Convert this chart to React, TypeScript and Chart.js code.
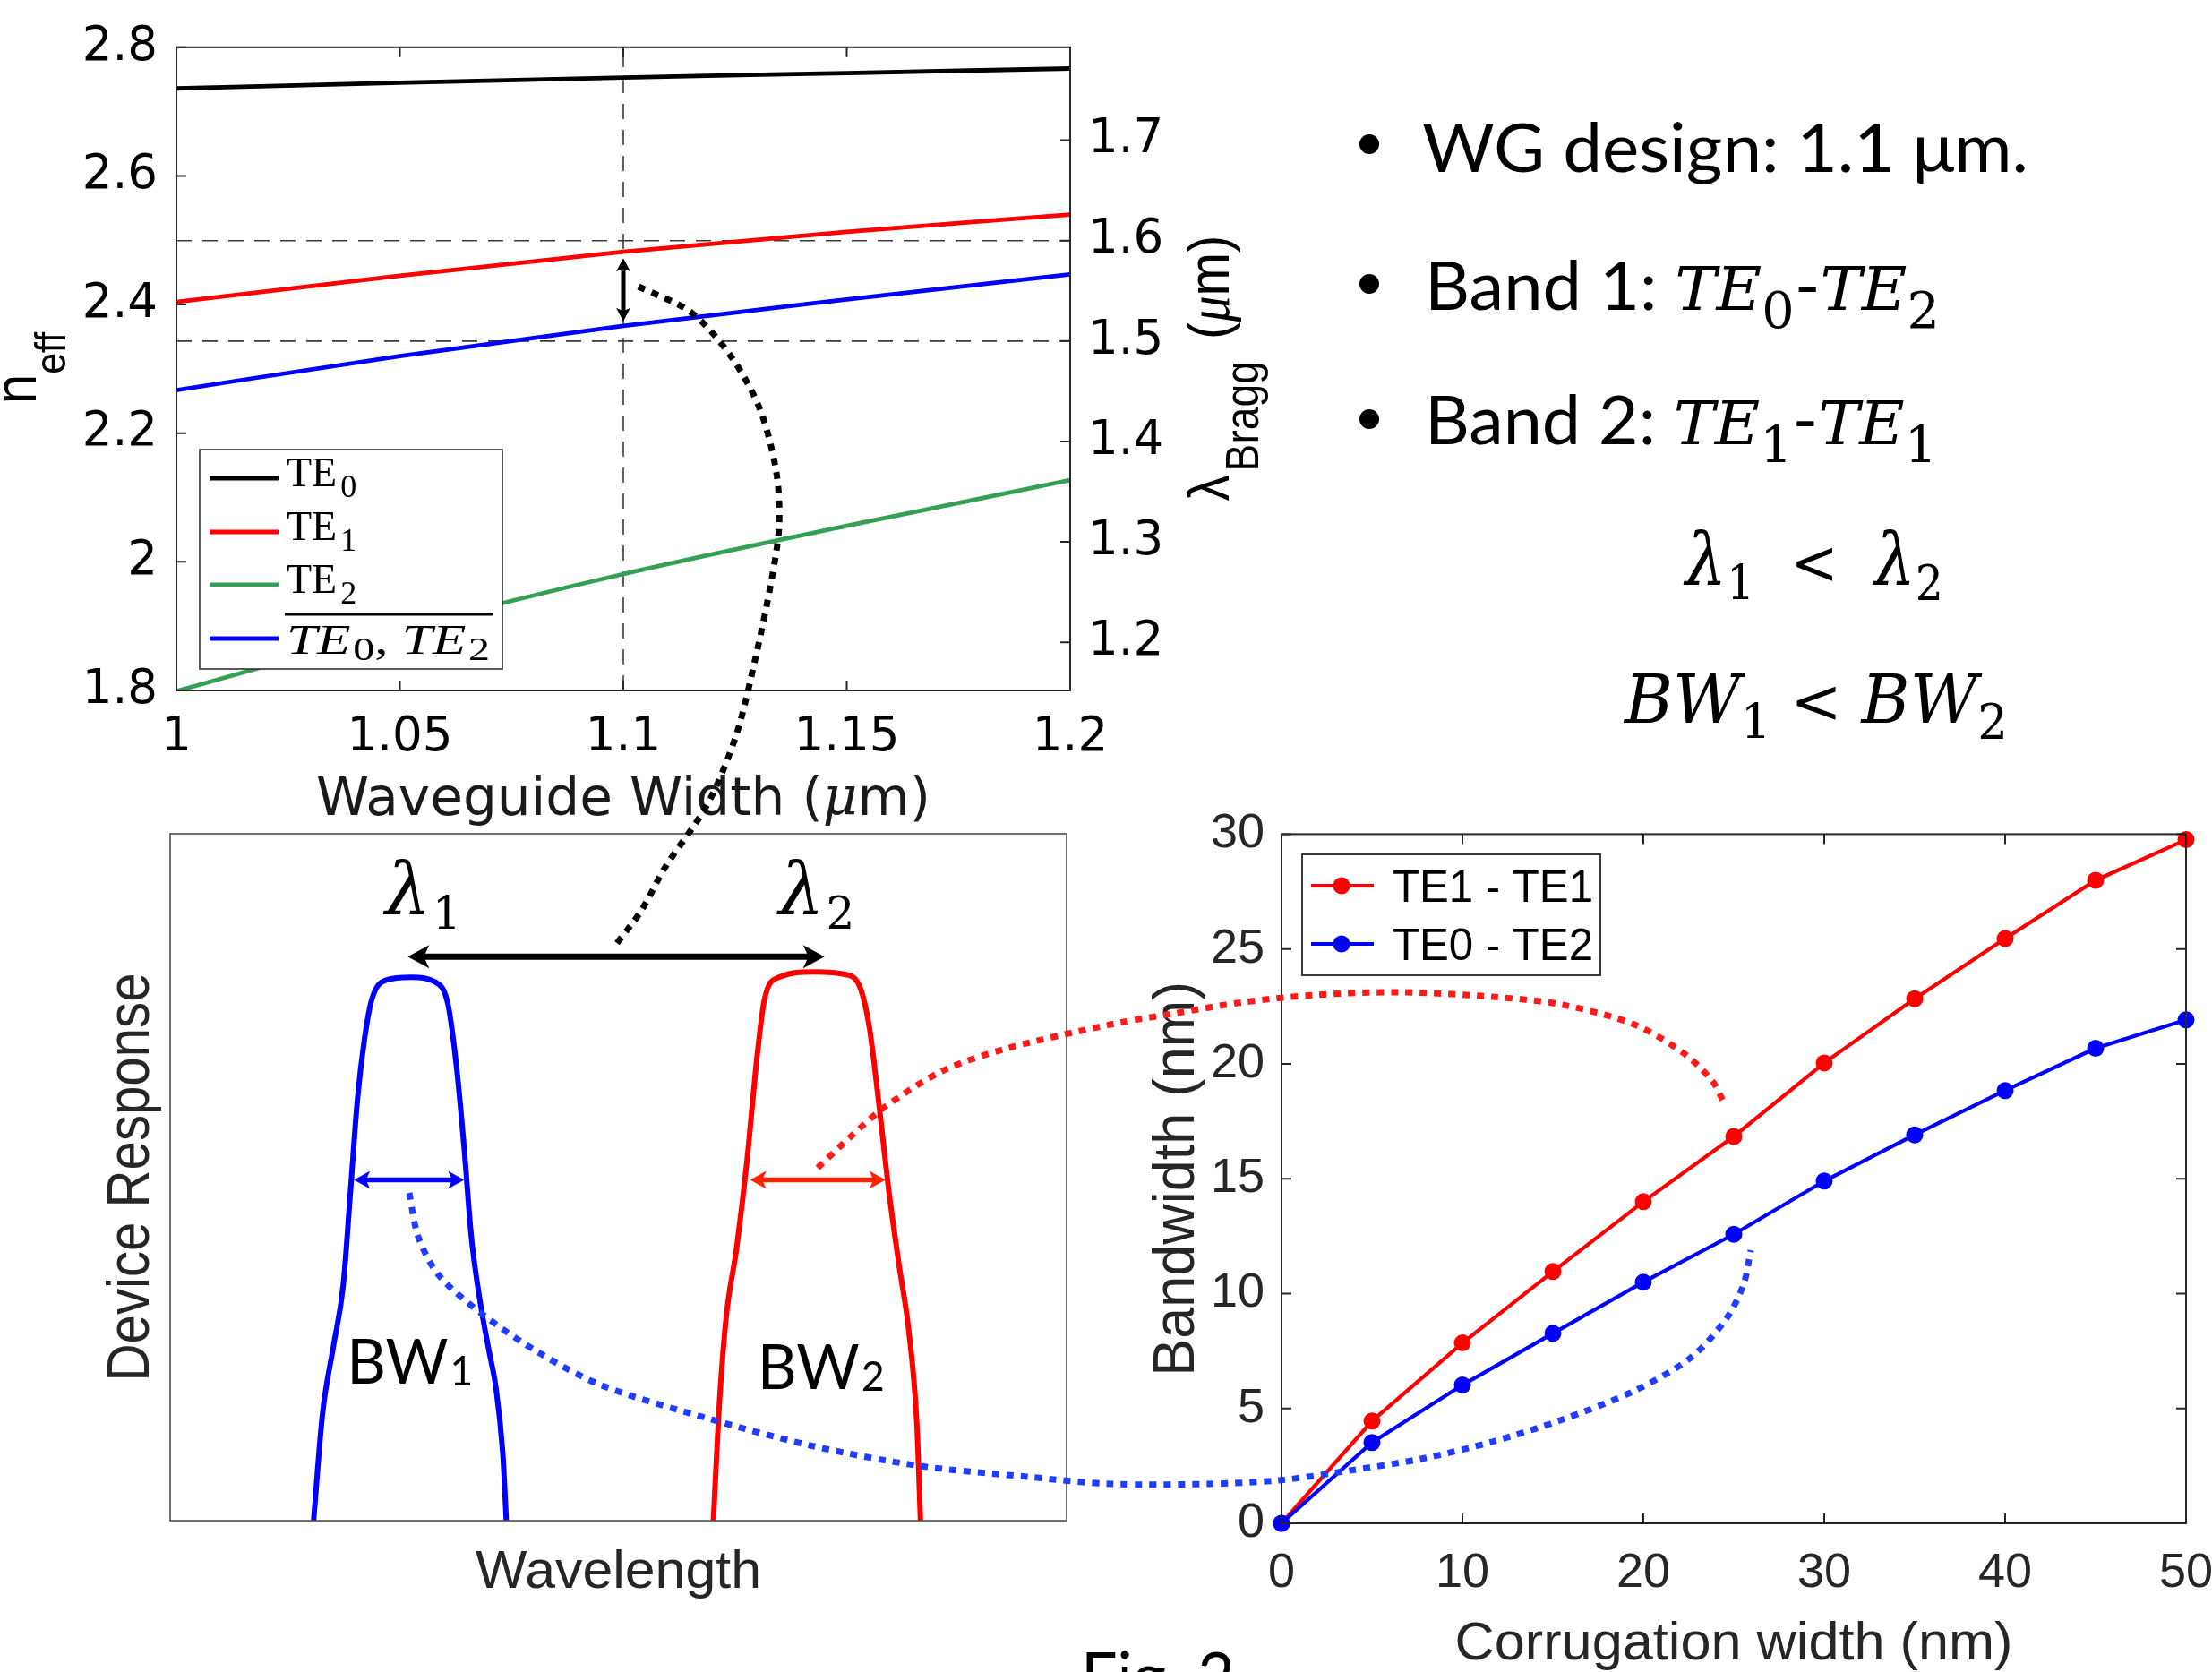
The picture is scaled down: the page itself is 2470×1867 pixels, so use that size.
import React, { useEffect, useRef } from 'react';
import { Chart, registerables } from 'chart.js';

Chart.register(...registerables);

// ---------------- Top panel: effective index vs waveguide width ----------------
const WIDTHS = [1.0, 1.05, 1.1, 1.15, 1.2];
const TE0 = [2.736, 2.745, 2.753, 2.76, 2.767];
const TE1 = [2.404, 2.445, 2.482, 2.513, 2.54];
const TE2 = [1.799, 1.895, 1.981, 2.056, 2.127];
const TE0_TE2 = [2.267, 2.32, 2.367, 2.408, 2.447];
const WIDTH_TICKS = [1, 1.05, 1.1, 1.15, 1.2];
const NEFF_TICKS = [1.8, 2, 2.2, 2.4, 2.6, 2.8];
const BRAGG_TICKS = [1.2, 1.3, 1.4, 1.5, 1.6, 1.7];
const BRAGG_RANGE = [1.152, 1.7926];
const DESIGN_WIDTH = 1.1;
const BRAGG_MARKS = [1.6, 1.5];
const ARROW_NEFF = [2.374, 2.472];

// ---------------- Bottom-left panel: schematic device response ----------------
const BAND1_X = [16.0, 17.0, 18.2, 19.3, 20.1, 20.9, 21.7, 22.5, 24.1, 26.9, 29.6, 31.0, 32.0, 32.8, 33.6, 34.6, 35.6, 36.3, 37.1, 37.5];
const BAND1_Y = [0, 15.6, 25.3, 34.2, 47.7, 61.4, 70.3, 75.9, 78.7, 79.1, 78.4, 75.1, 65.4, 54.2, 41.3, 31.7, 24.5, 19.7, 9.9, 0];
const BAND2_X = [60.6, 61.2, 62.0, 63.2, 64.3, 65.5, 66.3, 67.9, 71.8, 75.4, 77.0, 78.0, 79.0, 80.2, 81.3, 82.4, 83.3, 83.7];
const BAND2_Y = [0, 15.6, 29.3, 39.8, 51.8, 67.9, 75.9, 79.1, 79.9, 79.5, 77.5, 71.8, 61.4, 47.7, 37.3, 27.6, 14.0, 0];

// ---------------- Bottom-right panel: bandwidth vs corrugation ----------------
const CORRUGATION = [0, 5, 10, 15, 20, 25, 30, 35, 40, 45, 50];
const BW_TE1_TE1 = [0, 4.45, 7.85, 10.96, 14.0, 16.84, 20.04, 22.83, 25.45, 27.99, 29.76];
const BW_TE0_TE2 = [0, 3.52, 6.02, 8.27, 10.5, 12.58, 14.9, 16.91, 18.84, 20.68, 21.92];
const CORR_TICKS = [0, 10, 20, 30, 40, 50];
const BW_TICKS = [0, 5, 10, 15, 20, 25, 30];

// ---------------- Dotted connectors (page pixels) ----------------
const LINK_LAMBDA_X = [713, 772, 817, 849, 867, 870, 862, 844, 822, 790, 743, 716, 686];
const LINK_LAMBDA_Y = [320, 349, 399, 458, 528, 587, 645, 733, 821, 898, 968, 1017, 1057];
const LINK_BW2_X = [913, 949, 988, 1052, 1123, 1240, 1309, 1389, 1468, 1563, 1666, 1745, 1825, 1880, 1912, 1924];
const LINK_BW2_Y = [1304, 1270, 1236, 1196, 1171, 1144, 1132, 1119, 1111, 1108, 1113, 1122, 1144, 1176, 1207, 1229];
const LINK_BW1_X = [457, 467, 490, 538, 601, 672, 791, 909, 1028, 1147, 1240, 1349, 1428, 1507, 1587, 1666, 1745, 1825, 1888, 1928, 1947, 1955];
const LINK_BW1_Y = [1332, 1381, 1424, 1467, 1510, 1547, 1584, 1615, 1637, 1649, 1657, 1657, 1653, 1642, 1629, 1610, 1585, 1553, 1516, 1472, 1434, 1396];

const zip = (xs: number[], ys: number[]) => xs.map((x, i) => ({ x, y: ys[i] }));

type Seg = { t: string; f: string; dy?: number; dx?: number };
function drawRich(
  ctx: CanvasRenderingContext2D,
  segs: Seg[],
  x: number,
  y: number,
  o: { align?: 'left' | 'center' | 'right'; rot?: number; sx?: number; width?: number; color?: string } = {}
) {
  ctx.save();
  ctx.fillStyle = o.color || '#000';
  ctx.textBaseline = 'alphabetic';
  ctx.textAlign = 'left';
  let total = 0;
  const ws: number[] = [];
  for (const s of segs) {
    ctx.font = s.f;
    const w = ctx.measureText(s.t).width + (s.dx || 0);
    ws.push(w);
    total += w;
  }
  const k = o.width ? o.width / total : 1;
  ctx.translate(x, y);
  if (o.sx) ctx.scale(o.sx, 1);
  if (o.rot) ctx.rotate(o.rot);
  ctx.scale(k, 1);
  let cx = o.align === 'center' ? -total / 2 : o.align === 'right' ? -total : 0;
  segs.forEach((s, i) => {
    ctx.font = s.f;
    ctx.fillText(s.t, cx + (s.dx || 0), (s.dy || 0) / (o.sx && o.rot ? o.sx : 1));
    cx += ws[i];
  });
  ctx.restore();
}

function arrow(ctx: CanvasRenderingContext2D, x1: number, y1: number, x2: number, y2: number, color: string, lw: number, head: number, hw: number, both: boolean) {
  const ang = Math.atan2(y2 - y1, x2 - x1);
  const ux = Math.cos(ang);
  const uy = Math.sin(ang);
  ctx.save();
  ctx.strokeStyle = color;
  ctx.fillStyle = color;
  ctx.lineWidth = lw;
  ctx.beginPath();
  ctx.moveTo(x1 + (both ? ux * head * 0.7 : 0), y1 + (both ? uy * head * 0.7 : 0));
  ctx.lineTo(x2 - ux * head * 0.7, y2 - uy * head * 0.7);
  ctx.stroke();
  const tip = (tx: number, ty: number, dx: number, dy: number) => {
    ctx.beginPath();
    ctx.moveTo(tx, ty);
    ctx.lineTo(tx - dx * head - dy * hw, ty - dy * head + dx * hw);
    ctx.lineTo(tx - dx * head * 0.75, ty - dy * head * 0.75);
    ctx.lineTo(tx - dx * head + dy * hw, ty - dy * head - dx * hw);
    ctx.closePath();
    ctx.fill();
  };
  tip(x2, y2, ux, uy);
  if (both) tip(x1, y1, -ux, -uy);
  ctx.restore();
}

function frameTicks(chart: any, o: { color: string; lw: number; len: number; left?: string; right?: string; rightMirror?: string; xTicks: boolean }) {
  const { ctx, chartArea: a } = chart;
  ctx.save();
  ctx.strokeStyle = o.color;
  ctx.lineWidth = o.lw;
  ctx.strokeRect(a.left, a.top, a.right - a.left, a.bottom - a.top);
  ctx.beginPath();
  const L = o.len;
  if (o.xTicks) {
    const xs = chart.scales.x;
    xs.ticks.forEach((t: any) => {
      const p = xs.getPixelForValue(t.value);
      ctx.moveTo(p, a.bottom);
      ctx.lineTo(p, a.bottom - L);
      ctx.moveTo(p, a.top);
      ctx.lineTo(p, a.top + L);
    });
  }
  if (o.left) {
    const s = chart.scales[o.left];
    s.ticks.forEach((t: any) => {
      const p = s.getPixelForValue(t.value);
      ctx.moveTo(a.left, p);
      ctx.lineTo(a.left + L, p);
    });
  }
  const rid = o.right || o.rightMirror;
  if (rid) {
    const s = chart.scales[rid];
    s.ticks.forEach((t: any) => {
      const p = s.getPixelForValue(t.value);
      ctx.moveTo(a.right, p);
      ctx.lineTo(a.right - L, p);
    });
  }
  ctx.stroke();
  ctx.restore();
}

const SANS_W = '"DejaVu Sans"';
const SANS = '"Liberation Sans"';
const SERIF = '"Liberation Serif"';
const MATH = '"DejaVu Serif"';
const LATO = 'Lato';

const setTicks = (vals: number[]) => (s: any) => {
  s.ticks = vals.map((v) => ({ value: v }));
};

function configTop(): any {
  const ds = (label: string, ys: number[], color: string) => ({
    label,
    data: zip(WIDTHS, ys),
    borderColor: color,
    backgroundColor: color,
    borderWidth: 4.8,
    pointRadius: 0,
    cubicInterpolationMode: 'monotone',
    yAxisID: 'y',
  });
  const dashed = (data: any[], axis: string) => ({
    label: '',
    data,
    borderColor: '#3a3a3a',
    borderWidth: 1.6,
    borderDash: [17, 12],
    pointRadius: 0,
    yAxisID: axis,
  });
  const tickFont = { family: 'DejaVu Sans', size: 53 };
  return {
    type: 'line',
    data: {
      datasets: [
        ds('TE0', TE0, '#000000'),
        ds('TE1', TE1, '#ff0000'),
        ds('TE2', TE2, '#33a055'),
        ds('TE0,TE2', TE0_TE2, '#0000ff'),
        dashed([{ x: DESIGN_WIDTH, y: NEFF_TICKS[0] }, { x: DESIGN_WIDTH, y: NEFF_TICKS[NEFF_TICKS.length - 1] }], 'y'),
        dashed([{ x: WIDTHS[0], y: BRAGG_MARKS[0] }, { x: WIDTHS[WIDTHS.length - 1], y: BRAGG_MARKS[0] }], 'y2'),
        dashed([{ x: WIDTHS[0], y: BRAGG_MARKS[1] }, { x: WIDTHS[WIDTHS.length - 1], y: BRAGG_MARKS[1] }], 'y2'),
      ],
    },
    options: {
      responsive: false,
      animation: false,
      devicePixelRatio: 1,
      layout: { padding: { top: 52, left: 0, right: 0, bottom: 0 } },
      plugins: { legend: { display: false }, tooltip: { enabled: false } },
      events: [],
      scales: {
        x: {
          type: 'linear',
          min: 1,
          max: 1.2,
          afterBuildTicks: setTicks(WIDTH_TICKS),
          ticks: { font: tickFont, color: '#000', padding: 21, maxRotation: 0, autoSkip: false, callback: (v: number) => String(v) },
          grid: { display: false, drawTicks: false },
          border: { display: false },
          afterFit: (s: any) => { s.height = 159; },
        },
        y: {
          position: 'left',
          min: 1.8,
          max: 2.8,
          afterBuildTicks: setTicks(NEFF_TICKS),
          ticks: { font: tickFont, color: '#000', padding: 21, autoSkip: false, callback: (v: number) => String(v) },
          grid: { display: false, drawTicks: false },
          border: { display: false },
          afterFit: (s: any) => { s.width = 197; },
        },
        y2: {
          position: 'right',
          min: BRAGG_RANGE[0],
          max: BRAGG_RANGE[1],
          afterBuildTicks: setTicks(BRAGG_TICKS),
          ticks: { font: tickFont, color: '#000', padding: 20, autoSkip: false, callback: (v: number) => String(v) },
          grid: { display: false, drawTicks: false },
          border: { display: false },
          afterFit: (s: any) => { s.width = 225; },
        },
      },
    },
    plugins: [
      {
        id: 'decorTop',
        afterDraw(chart: any) {
          const ctx = chart.ctx as CanvasRenderingContext2D;
          frameTicks(chart, { color: '#262626', lw: 2, len: 11, left: 'y', right: 'y2', xTicks: true });
          const a = chart.chartArea;
          const xs = chart.scales.x;
          const ys = chart.scales.y;
          const ax = xs.getPixelForValue(DESIGN_WIDTH);
          arrow(ctx, ax, ys.getPixelForValue(ARROW_NEFF[0]), ax, ys.getPixelForValue(ARROW_NEFF[1]), '#000', 5, 15, 8, true);
          drawRich(ctx, [
            { t: 'Waveguide Width (', f: `59px ${SANS_W}` },
            { t: '\u03bc', f: `italic 59px ${MATH}` },
            { t: 'm)', f: `59px ${SANS_W}` },
          ], (a.left + a.right) / 2, 910, { align: 'center', width: 686, color: '#1a1a1a' });
          drawRich(ctx, [
            { t: 'n', f: `60px ${SANS}` },
            { t: 'eff', f: `43px ${SANS}`, dy: 33 },
          ], 40, 411, { align: 'center', rot: -Math.PI / 2, sx: 1.12 });
          drawRich(ctx, [
            { t: '\u03bb', f: `58px ${SANS}` },
            { t: 'Bragg', f: `46px ${SANS}`, dy: 33, dx: 4 },
            { t: ' (', f: `58px ${SANS}`, dx: 8 },
            { t: '\u03bc', f: `italic 58px ${SERIF}` },
            { t: 'm)', f: `58px ${SANS}` },
          ], 1372, 411, { align: 'center', rot: -Math.PI / 2, sx: 1.12, width: 297 });
          ctx.save();
          ctx.fillStyle = '#fff';
          ctx.fillRect(223, 502, 338, 245);
          ctx.strokeStyle = '#333';
          ctx.lineWidth = 1.6;
          ctx.strokeRect(223, 502, 338, 245);
          const rows = [534, 594, 653, 713];
          const cols = ['#000000', '#ff0000', '#33a055', '#0000ff'];
          rows.forEach((ry, i) => {
            ctx.strokeStyle = cols[i];
            ctx.lineWidth = 5;
            ctx.beginPath();
            ctx.moveTo(234, ry);
            ctx.lineTo(311, ry);
            ctx.stroke();
          });
          ctx.restore();
          const sub = ['0', '1', '2'];
          sub.forEach((d, i) => {
            drawRich(ctx, [
              { t: 'TE', f: `46px ${SERIF}` },
              { t: d, f: `36px ${SERIF}`, dy: 12, dx: 4 },
            ], 320, rows[i] + 9);
          });
          drawRich(ctx, [
            { t: 'TE', f: `italic 46px ${SERIF}` },
            { t: '0', f: `36px ${SERIF}`, dy: 7, dx: 2 },
            { t: ', ', f: `46px ${SERIF}` },
            { t: 'TE', f: `italic 46px ${SERIF}` },
            { t: '2', f: `36px ${SERIF}`, dy: 7, dx: 2 },
          ], 320, 730, { width: 227 });
          ctx.save();
          ctx.strokeStyle = '#000';
          ctx.lineWidth = 3;
          ctx.beginPath();
          ctx.moveTo(318, 686);
          ctx.lineTo(551, 686);
          ctx.stroke();
          ctx.restore();
        },
      },
    ],
  };
}

function configSchematic(): any {
  const ds = (xs: number[], ys: number[], color: string) => ({
    data: zip(xs, ys),
    borderColor: color,
    borderWidth: 6,
    pointRadius: 0,
    cubicInterpolationMode: 'monotone',
  });
  return {
    type: 'line',
    data: { datasets: [ds(BAND1_X, BAND1_Y, '#0000ff'), ds(BAND2_X, BAND2_Y, '#ff0000')] },
    options: {
      responsive: false,
      animation: false,
      devicePixelRatio: 1,
      events: [],
      layout: { padding: { top: 11, left: 190, right: 49, bottom: 169 } },
      plugins: { legend: { display: false }, tooltip: { enabled: false } },
      scales: {
        x: { type: 'linear', min: 0, max: 100, display: false },
        y: { type: 'linear', min: 0, max: 100, display: false },
      },
    },
    plugins: [
      {
        id: 'decorSchematic',
        afterDraw(chart: any) {
          const ctx = chart.ctx as CanvasRenderingContext2D;
          const a = chart.chartArea;
          ctx.save();
          ctx.strokeStyle = '#4d4d4d';
          ctx.lineWidth = 1.6;
          ctx.strokeRect(a.left, a.top, a.right - a.left, a.bottom - a.top);
          ctx.restore();
          const X = (v: number) => chart.scales.x.getPixelForValue(v);
          const Y = (v: number) => chart.scales.y.getPixelForValue(v);
          arrow(ctx, X(26.5), Y(82.1), X(73.0), Y(82.1), '#000', 7, 24, 13, true);
          arrow(ctx, X(20.5), Y(49.6), X(32.8), Y(49.6), '#0000ff', 5.5, 18, 10, true);
          arrow(ctx, X(64.7), Y(49.6), X(79.8), Y(49.6), '#ff2200', 5.5, 18, 10, true);
          drawRich(ctx, [
            { t: '\u03bb', f: `italic 80px ${MATH}` },
            { t: '1', f: `50px ${MATH}`, dy: 17, dx: 2 },
          ], X(24.0), Y(88.4));
          drawRich(ctx, [
            { t: '\u03bb', f: `italic 80px ${MATH}` },
            { t: '2', f: `50px ${MATH}`, dy: 17, dx: 2 },
          ], X(67.9), Y(88.4));
          drawRich(ctx, [
            { t: 'BW', f: `70px ${LATO}` },
            { t: '1', f: `46px ${LATO}`, dy: 2, dx: 2 },
          ], X(19.7), Y(20.0), { width: 141 });
          drawRich(ctx, [
            { t: 'BW', f: `70px ${LATO}` },
            { t: '2', f: `46px ${LATO}`, dy: 2, dx: 2 },
          ], X(65.5), Y(19.2), { width: 142 });
          drawRich(ctx, [{ t: 'Device Response', f: `58px ${SANS}` }], 166, (a.top + a.bottom) / 2, {
            align: 'center', rot: -Math.PI / 2, sx: 1.14, width: 456, color: '#262626',
          });
          drawRich(ctx, [{ t: 'Wavelength', f: `60px ${SANS}` }], 690.5, 852.6, { align: 'center', width: 319, color: '#262626' });
        },
      },
    ],
  };
}

function configBandwidth(): any {
  const ds = (label: string, ys: number[], color: string) => ({
    label,
    data: zip(CORRUGATION, ys),
    borderColor: color,
    backgroundColor: color,
    borderWidth: 4.2,
    pointRadius: 9.5,
    pointBorderWidth: 0,
    pointBackgroundColor: color,
    tension: 0,
    clip: 20,
  });
  const tickFont = { family: 'Liberation Sans', size: 54 };
  return {
    type: 'line',
    data: {
      datasets: [ds('TE0 - TE2', BW_TE0_TE2, '#0000ff'), ds('TE1 - TE1', BW_TE1_TE1, '#ff0000')],
    },
    options: {
      responsive: false,
      animation: false,
      devicePixelRatio: 1,
      events: [],
      layout: { padding: { top: 49, left: 0, right: 59, bottom: 0 } },
      plugins: { legend: { display: false }, tooltip: { enabled: false } },
      scales: {
        x: {
          type: 'linear',
          min: 0,
          max: 50,
          afterBuildTicks: setTicks(CORR_TICKS),
          ticks: { font: tickFont, color: '#262626', padding: 24, maxRotation: 0, autoSkip: false, callback: (v: number) => String(v) },
          grid: { display: false, drawTicks: false },
          border: { display: false },
          afterFit: (s: any) => { s.height = 166; },
        },
        y: {
          type: 'linear',
          min: 0,
          max: 30,
          afterBuildTicks: setTicks(BW_TICKS),
          ticks: { font: tickFont, color: '#262626', padding: 19, autoSkip: false, callback: (v: number) => String(v) },
          grid: { display: false, drawTicks: false },
          border: { display: false },
          afterFit: (s: any) => { s.width = 191; },
        },
      },
    },
    plugins: [
      {
        id: 'decorBandwidth',
        afterDraw(chart: any) {
          const ctx = chart.ctx as CanvasRenderingContext2D;
          const a = chart.chartArea;
          frameTicks(chart, { color: '#262626', lw: 2, len: 11, left: 'y', rightMirror: 'y', xTicks: true });
          drawRich(ctx, [{ t: 'Bandwidth (nm)', f: `62px ${SANS}` }], 93, (a.top + a.bottom) / 2, {
            align: 'center', rot: -Math.PI / 2, sx: 1.06, width: 441, color: '#262626',
          });
          drawRich(ctx, [{ t: 'Corrugation width (nm)', f: `60px ${SANS}` }], (a.left + a.right) / 2, 972.5, {
            align: 'center', width: 623, color: '#262626',
          });
          ctx.save();
          ctx.fillStyle = '#fff';
          ctx.fillRect(214, 74, 333, 135);
          ctx.strokeStyle = '#262626';
          ctx.lineWidth = 1.8;
          ctx.strokeRect(214, 74, 333, 135);
          const items = [
            { y: 109, c: '#ff0000', t: 'TE1 - TE1' },
            { y: 174, c: '#0000ff', t: 'TE0 - TE2' },
          ];
          items.forEach((it) => {
            ctx.strokeStyle = it.c;
            ctx.fillStyle = it.c;
            ctx.lineWidth = 4;
            ctx.beginPath();
            ctx.moveTo(224, it.y);
            ctx.lineTo(294, it.y);
            ctx.stroke();
            ctx.beginPath();
            ctx.arc(258, it.y, 9.5, 0, Math.PI * 2);
            ctx.fill();
          });
          ctx.restore();
          items.forEach((it) => {
            drawRich(ctx, [{ t: it.t, f: `50px ${SANS}` }], 315, it.y + 18, { width: 224, color: '#000' });
          });
        },
      },
    ],
  };
}

function configOverlay(): any {
  const link = (xs: number[], ys: number[], color: string) => ({
    data: zip(xs, ys),
    showLine: true,
    borderColor: color,
    borderWidth: 7,
    borderDash: [8, 8],
    borderCapStyle: 'butt',
    pointRadius: 0,
    tension: 0.3,
    fill: false,
  });
  return {
    type: 'scatter',
    data: {
      datasets: [
        link(LINK_LAMBDA_X, LINK_LAMBDA_Y, '#000000'),
        link(LINK_BW2_X, LINK_BW2_Y, '#ff1a1a'),
        link(LINK_BW1_X, LINK_BW1_Y, '#1f3cff'),
      ],
    },
    options: {
      responsive: false,
      animation: false,
      devicePixelRatio: 1,
      events: [],
      layout: { padding: 0 },
      plugins: { legend: { display: false }, tooltip: { enabled: false } },
      scales: {
        x: { type: 'linear', min: 0, max: 2470, display: false },
        y: { type: 'linear', min: 0, max: 1867, reverse: true, display: false },
      },
    },
    plugins: [
      {
        id: 'textPanel',
        afterDraw(chart: any) {
          const ctx = chart.ctx as CanvasRenderingContext2D;
          const MI = `italic 68px ${MATH}`;
          const MS = `56px ${MATH}`;
          const T = `76px ${LATO}`;
          ctx.save();
          ctx.fillStyle = '#000';
          [161, 317, 468].forEach((cy) => {
            ctx.beginPath();
            ctx.arc(1529, cy, 11, 0, Math.PI * 2);
            ctx.fill();
          });
          ctx.restore();
          drawRich(ctx, [{ t: 'WG design: 1.1 \u03bcm.', f: T }], 1588, 192, { width: 677 });
          drawRich(ctx, [
            { t: 'Band 1: ', f: T },
            { t: 'TE', f: MI },
            { t: '0', f: MS, dy: 20 },
            { t: '-', f: T },
            { t: 'TE', f: MI },
            { t: '2', f: MS, dy: 20 },
          ], 1591, 346, { width: 575 });
          drawRich(ctx, [
            { t: 'Band 2: ', f: T },
            { t: 'TE', f: MI },
            { t: '1', f: MS, dy: 20 },
            { t: '-', f: T },
            { t: 'TE', f: MI },
            { t: '1', f: MS, dy: 20 },
          ], 1591, 496, { width: 572 });
          drawRich(ctx, [
            { t: '\u03bb', f: `italic 80px ${MATH}` },
            { t: '1', f: `54px ${MATH}`, dy: 18 },
            { t: '  <  ', f: `70px ${MATH}` },
            { t: '\u03bb', f: `italic 80px ${MATH}` },
            { t: '2', f: `54px ${MATH}`, dy: 18 },
          ], 1882, 652, { width: 288 });
          drawRich(ctx, [
            { t: 'BW', f: `italic 75px ${MATH}` },
            { t: '1', f: `54px ${MATH}`, dy: 18 },
            { t: ' < ', f: `70px ${MATH}` },
            { t: 'BW', f: `italic 75px ${MATH}` },
            { t: '2', f: `54px ${MATH}`, dy: 18 },
          ], 1814, 807, { width: 428 });
          drawRich(ctx, [{ t: 'Fig. 2', f: T }], 1207, 1899, { width: 172 });
        },
      },
    ],
  };
}

export default function App() {
  const topRef = useRef<HTMLCanvasElement>(null);
  const schRef = useRef<HTMLCanvasElement>(null);
  const bwRef = useRef<HTMLCanvasElement>(null);
  const ovRef = useRef<HTMLCanvasElement>(null);

  useEffect(() => {
    const charts: Chart[] = [];
    if (topRef.current) charts.push(new Chart(topRef.current, configTop()));
    if (schRef.current) charts.push(new Chart(schRef.current, configSchematic()));
    if (bwRef.current) charts.push(new Chart(bwRef.current, configBandwidth()));
    if (ovRef.current) charts.push(new Chart(ovRef.current, configOverlay()));
    return () => charts.forEach((c) => c.destroy());
  }, []);

  return (
    <div style={{ position: 'fixed', left: 0, top: 0, width: 2470, height: 1867, overflow: 'hidden', background: '#fff' }}>
      <canvas ref={topRef} width={1420} height={930} style={{ position: 'absolute', left: 0, top: 0 }} />
      <canvas ref={schRef} width={1240} height={947} style={{ position: 'absolute', left: 0, top: 920 }} />
      <canvas ref={bwRef} width={1260} height={987} style={{ position: 'absolute', left: 1240, top: 880 }} />
      <canvas ref={ovRef} width={2470} height={1867} style={{ position: 'absolute', left: 0, top: 0, pointerEvents: 'none' }} />
    </div>
  );
}
